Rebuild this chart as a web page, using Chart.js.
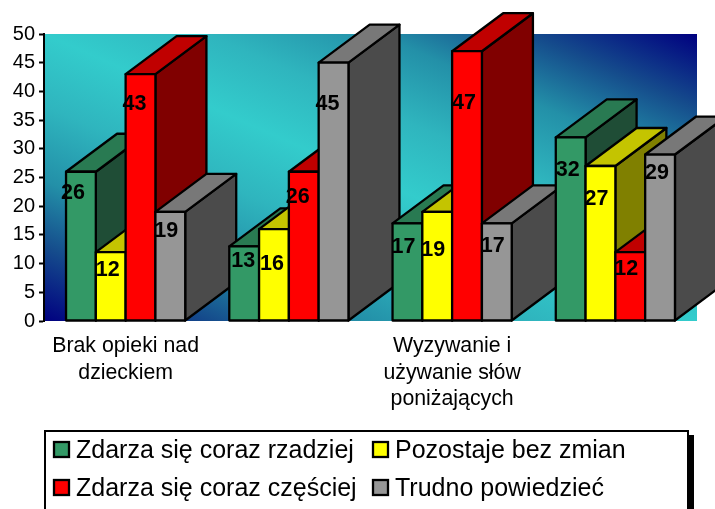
<!DOCTYPE html>
<html><head><meta charset="utf-8">
<style>html,body{margin:0;padding:0;background:#fff}canvas{display:block}</style>
<script src="https://cdn.jsdelivr.net/npm/chart.js@4/dist/chart.umd.min.js"></script>
</head><body>
<canvas id="c" width="715" height="509"></canvas>
<script>
const categories = [["Brak opieki nad","dzieckiem"], "", ["Wyzywanie i","używanie słów","poniżających"], ""];
const seriesNames = ["Zdarza się coraz rzadziej","Pozostaje bez zmian","Zdarza się coraz częściej","Trudno powiedzieć"];
const rzadziej = [26,13,17,32];
const bezZmian = [12,16,19,27];
const czesciej = [43,26,47,12];
const trudno   = [19,45,17,29];
const yTicks = [0,5,10,15,20,25,30,35,40,45,50];

const FONT = '"Liberation Sans", Arial, sans-serif';
const styles = [
  {front:'#339966', top:'#297A52', side:'#1F4D36'},
  {front:'#FFFF00', top:'#C4C400', side:'#808000'},
  {front:'#FF0000', top:'#C00000', side:'#800000'},
  {front:'#969696', top:'#787878', side:'#4B4B4B'}
];
const DEPTH_X = 51, DEPTH_Y = 38;
// label placement relative to the bar's centre / top edge [dataset][category]
const labelDx = [[-8,-1,-4,-3],[-3,-2,-4,-4],[-6,-6,-3,-4],[-4,-6,-4,-3]];
const labelDy = [[21,15,24,33],[18,35,38,33],[30,25,52,17],[19,41,23,19]];

const poly = (ctx, pts, fill) => {
  ctx.beginPath();
  pts.forEach((p,i)=> i?ctx.lineTo(p[0],p[1]):ctx.moveTo(p[0],p[1]));
  ctx.closePath();
  ctx.fillStyle = fill; ctx.fill(); ctx.stroke();
};

const backdrop = {
  id:'backdrop',
  beforeDraw(chart){
    const {ctx, chartArea:a} = chart;
    const w=a.right-a.left, h=a.bottom-a.top, cx=a.left+w/2, cy=a.top+h/2;
    const n=Math.hypot(w,h), dx=h/n, dy=-w/n, r=(w/2*dx)+(-h/2*dy);
    const g=ctx.createLinearGradient(cx-r*dx,cy-r*dy,cx+r*dx,cy+r*dy);
    [[0,'#000080'],[0.13,'#154C8C'],[0.245,'#2390A8'],[0.375,'#2FB5BE'],[0.5,'#33CCCC'],
     [0.625,'#2FB5BE'],[0.755,'#2390A8'],[0.87,'#154C8C'],[1,'#000080']].forEach(s=>g.addColorStop(s[0],s[1]));
    ctx.save(); ctx.fillStyle=g; ctx.fillRect(a.left,a.top,w,h); ctx.restore();
  }
};

const bars3d = {
  id:'bars3d',
  beforeDatasetsDraw(chart){
    const ctx=chart.ctx, n=chart.data.labels.length, m=chart.data.datasets.length;
    ctx.save();
    ctx.lineWidth=2.3; ctx.lineJoin='round'; ctx.strokeStyle='#000';
    for(let c=0;c<n;c++) for(let d=0;d<m;d++){
      const b=chart.getDatasetMeta(d).data[c];
      const {x,y,base,width}=b.getProps(['x','y','base','width']);
      const l=x-width/2, r=x+width/2, s=styles[d];
      poly(ctx,[[r,y],[r+DEPTH_X,y-DEPTH_Y],[r+DEPTH_X,base-DEPTH_Y],[r,base]],s.side);
      poly(ctx,[[l,y],[l+DEPTH_X,y-DEPTH_Y],[r+DEPTH_X,y-DEPTH_Y],[r,y]],s.top);
      poly(ctx,[[l,y],[r,y],[r,base],[l,base]],s.front);
    }
    ctx.fillStyle='#000'; ctx.font='bold 21.5px '+FONT; ctx.textAlign='center'; ctx.textBaseline='middle';
    for(let d=0;d<m;d++) for(let c=0;c<n;c++){
      const b=chart.getDatasetMeta(d).data[c];
      ctx.fillText(String(chart.data.datasets[d].data[c]), b.x+labelDx[d][c], b.y+labelDy[d][c]);
    }
    ctx.restore();
    return false;
  }
};

const legendBox = {
  id:'legendBox',
  afterDraw(chart){
    const ctx=chart.ctx;
    ctx.save();
    ctx.fillStyle='#000'; ctx.fillRect(688,435,6,80);
    ctx.fillStyle='#fff'; ctx.strokeStyle='#000'; ctx.lineWidth=2;
    ctx.fillRect(45,431,643,90); ctx.strokeRect(45,431,643,90);
    const cols=[54,373], rows=[450,488];
    ctx.font='25px '+FONT; ctx.textBaseline='middle'; ctx.textAlign='left';
    chart.data.datasets.forEach((ds,i)=>{
      const x=cols[i%2], y=rows[Math.floor(i/2)];
      ctx.fillStyle=ds.backgroundColor; ctx.lineWidth=2.3;
      ctx.fillRect(x,y-8,15,15); ctx.strokeRect(x,y-8,15,15);
      ctx.fillStyle='#000'; ctx.fillText(ds.label,x+22,y+1);
    });
    ctx.restore();
  }
};

const allSeries=[rzadziej,bezZmian,czesciej,trudno];
new Chart(document.getElementById('c'),{
  type:'bar',
  data:{labels:categories,datasets:allSeries.map((v,i)=>({label:seriesNames[i],data:v,backgroundColor:styles[i].front,borderColor:'#000',borderWidth:2}))},
  plugins:[backdrop,bars3d,legendBox],
  options:{
    responsive:false,animation:false,
    layout:{padding:{left:0,top:34,right:18,bottom:0}},
    datasets:{bar:{categoryPercentage:0.73,barPercentage:1}},
    plugins:{legend:{display:false},title:{display:false},tooltip:{enabled:false}},
    scales:{
      x:{
        grid:{display:false},border:{display:false},
        afterFit(s){s.height=188;},
        ticks:{autoSkip:false,maxRotation:0,minRotation:0,padding:4,color:'#000',font:{family:FONT,size:21.3,lineHeight:1.25}}
      },
      y:{
        min:0,max:50,
        afterFit(s){s.width=44;},
        afterBuildTicks(s){s.ticks=yTicks.map(v=>({value:v}));},
        grid:{drawOnChartArea:false,drawTicks:true,tickLength:5,tickColor:'#000',tickWidth:2},
        border:{display:true,color:'#000',width:2},
        ticks:{padding:4,color:'#000',font:{family:FONT,size:20}}
      }
    }
  }
});
</script>
</body></html>
